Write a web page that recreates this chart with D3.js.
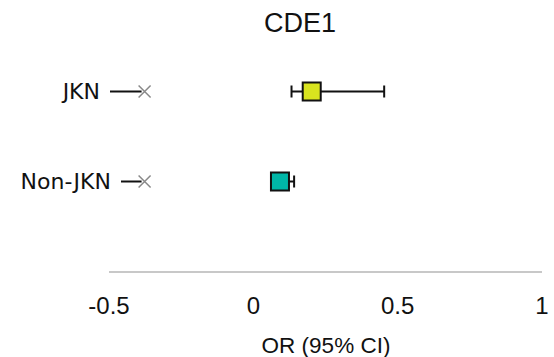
<!DOCTYPE html>
<html><head><meta charset="utf-8">
<script src="https://cdn.jsdelivr.net/npm/d3@7"></script>
<style>body{margin:0;background:#fff}svg{display:block}</style>
</head><body>
<svg id="c" width="554" height="357"></svg>
<script>
const categories = ["JKN", "Non-JKN"];
const orValues = [0.204, 0.094];
const ciLower = [0.134, 0.075];
const ciUpper = [0.455, 0.143];
const refValues = [-0.375, -0.375];
const colors = ["#d9e41f", "#00b6a7"];
const tickValues = [-0.5, 0, 0.5, 1];
const title = "CDE1";
const xTitle = "OR (95% CI)";

const svg = d3.select("#c");
const x = d3.scaleLinear().domain([-0.5, 1]).range([108.5, 541.5]);
const y = d3.scalePoint().domain(categories).range([91.5, 181.5]);

svg.append("text").attr("x", 300).attr("y", 32).attr("text-anchor", "middle")
  .attr("font-family", "Liberation Sans, Arial, sans-serif").attr("font-size", 27).attr("fill", "#111").text(title);

// axis
const axisY = 271.5;
const ax = svg.append("g").attr("transform", `translate(0,${axisY})`)
  .call(d3.axisBottom(x).tickValues(tickValues).tickSize(0).tickPadding(25).tickFormat(d => String(d)));
ax.select(".domain").attr("stroke", "#c8c8c8").attr("stroke-width", 2);
ax.selectAll("text").attr("font-family", "Liberation Sans, Arial, sans-serif").attr("font-size", 24).attr("fill", "#111");

svg.append("text").attr("x", 326).attr("y", 353).attr("text-anchor", "middle")
  .attr("font-family", "Liberation Sans, Arial, sans-serif").attr("font-size", 22.5).attr("fill", "#111").text(xTitle);

// category labels with leader lines and reference markers
const labelW = {"JKN": 110, "Non-JKN": 121};
categories.forEach((c, i) => {
  const yy = y(c);
  const lx = labelW[c];
  svg.append("text").attr("x", lx - 10).attr("y", yy).attr("dy", "0.36em").attr("text-anchor", "end")
    .attr("font-family", "DejaVu Sans, sans-serif").attr("font-size", 22).attr("fill", "#111").text(c);
  svg.append("line").attr("x1", lx).attr("x2", x(refValues[i]) - 3).attr("y1", yy).attr("y2", yy)
    .attr("stroke", "#111").attr("stroke-width", 2);
  const mx = x(refValues[i]), s = 6;
  svg.append("path").attr("d", `M${mx-s},${yy-s}L${mx+s},${yy+s}M${mx-s},${yy+s}L${mx+s},${yy-s}`)
    .attr("stroke", "#888").attr("stroke-width", 1.5);
});

// error bars
categories.forEach((c, i) => {
  const yy = y(c);
  const g = svg.append("g");
  g.append("line").attr("x1", x(ciLower[i])).attr("x2", x(ciUpper[i])).attr("y1", yy).attr("y2", yy)
    .attr("stroke", "#111").attr("stroke-width", 2);
  [ciLower[i], ciUpper[i]].forEach(v => {
    g.append("line").attr("x1", x(v)).attr("x2", x(v)).attr("y1", yy - 6).attr("y2", yy + 6)
      .attr("stroke", "#111").attr("stroke-width", 2);
  });
  const sz = 18;
  g.append("rect").attr("x", x(orValues[i]) - sz/2).attr("y", yy - sz/2).attr("width", sz).attr("height", sz)
    .attr("fill", colors[i]).attr("stroke", "#111").attr("stroke-width", 2);
});
</script>
</body></html>
